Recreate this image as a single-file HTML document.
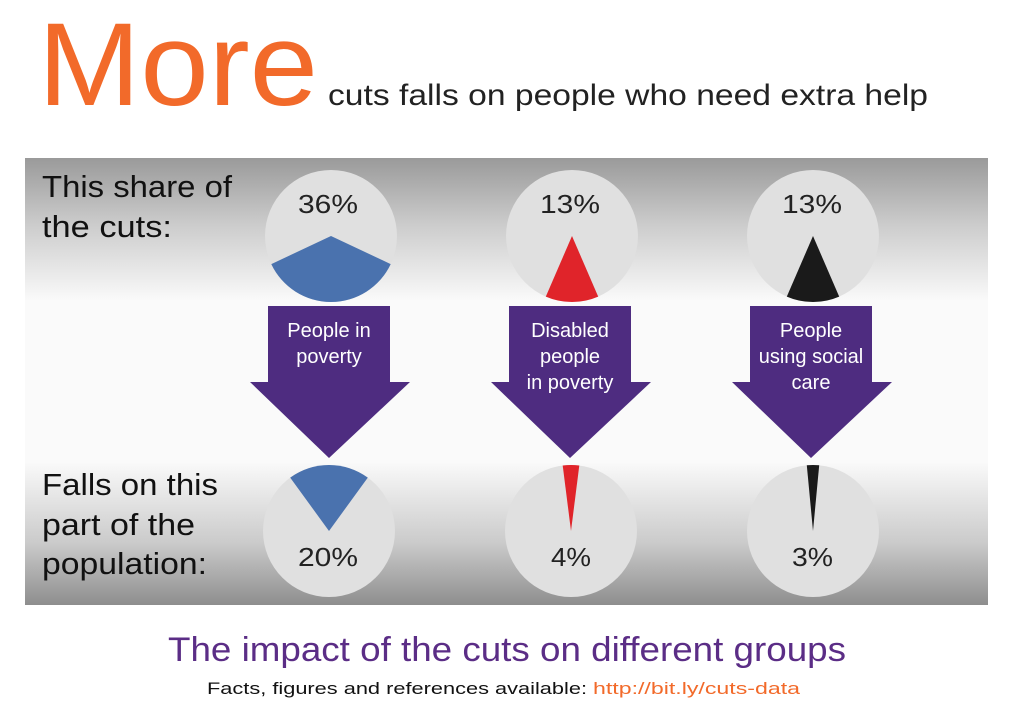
<!DOCTYPE html>
<html><head><meta charset="utf-8"><style>
body{margin:0;width:1024px;height:710px;background:#fff;overflow:hidden;font-family:"Liberation Sans",sans-serif}
</style></head><body>
<svg width="1024" height="710" viewBox="0 0 1024 710" xmlns="http://www.w3.org/2000/svg" font-family="Liberation Sans, sans-serif">
<defs>
<linearGradient id="bg" x1="0" y1="0" x2="0" y2="1">
<stop offset="0" stop-color="#9a9a9a"/>
<stop offset="0.15" stop-color="#cccccc"/>
<stop offset="0.32" stop-color="#fafafa"/>
<stop offset="0.68" stop-color="#fafafa"/>
<stop offset="0.86" stop-color="#cbcbcb"/>
<stop offset="1" stop-color="#8e8e8e"/>
</linearGradient>
</defs>
<text x="38" y="105" font-size="118" fill="#f26a2a" textLength="280" lengthAdjust="spacingAndGlyphs">More</text>
<text x="328" y="105" font-size="30" fill="#222" textLength="600" lengthAdjust="spacingAndGlyphs">cuts falls on people who need extra help</text>
<rect x="25" y="158" width="963" height="447" fill="url(#bg)"/>
<g font-size="31" fill="#111" lengthAdjust="spacingAndGlyphs">
<text x="42" y="197" textLength="190" lengthAdjust="spacingAndGlyphs">This share of</text>
<text x="42" y="237" textLength="130" lengthAdjust="spacingAndGlyphs">the cuts:</text>
<text x="42" y="495" textLength="176" lengthAdjust="spacingAndGlyphs">Falls on this</text>
<text x="42" y="535" textLength="153" lengthAdjust="spacingAndGlyphs">part of the</text>
<text x="42" y="574" textLength="165" lengthAdjust="spacingAndGlyphs">population:</text>
</g>
<g fill="#e0e0e0">
<circle cx="331" cy="236" r="66"/><circle cx="572" cy="236" r="66"/><circle cx="813" cy="236" r="66"/>
<circle cx="329" cy="531" r="66"/><circle cx="571" cy="531" r="66"/><circle cx="813" cy="531" r="66"/>
</g>
<path d="M331 236 L271.3 264.1 A66 66 0 0 0 390.7 264.1 Z" fill="#4a72ae"/>
<path d="M572 236 L545.8 296.6 A66 66 0 0 0 598.2 296.6 Z" fill="#e0242a"/>
<path d="M813 236 L786.8 296.6 A66 66 0 0 0 839.2 296.6 Z" fill="#1a1a1a"/>
<path d="M329 531 L290.2 477.6 A66 66 0 0 1 367.8 477.6 Z" fill="#4a72ae"/>
<path d="M571 531 L562.7 465.5 A66 66 0 0 1 579.3 465.5 Z" fill="#e0242a"/>
<path d="M813 531 L806.8 465.3 A66 66 0 0 1 819.2 465.3 Z" fill="#1a1a1a"/>
<g font-size="26" fill="#222">
<text x="298" y="213" textLength="60" lengthAdjust="spacingAndGlyphs">36%</text>
<text x="540" y="213" textLength="60" lengthAdjust="spacingAndGlyphs">13%</text>
<text x="782" y="213" textLength="60" lengthAdjust="spacingAndGlyphs">13%</text>
<text x="298" y="566" textLength="60" lengthAdjust="spacingAndGlyphs">20%</text>
<text x="551" y="566" textLength="40" lengthAdjust="spacingAndGlyphs">4%</text>
<text x="792" y="566" textLength="41" lengthAdjust="spacingAndGlyphs">3%</text>
</g>
<g fill="#4e2c80">
<path d="M268 306 H390 V382 H410 L329 458 L250 382 H268 Z"/>
<path d="M509 306 H631 V382 H651 L570 458 L491 382 H509 Z"/>
<path d="M750 306 H872 V382 H892 L811 458 L732 382 H750 Z"/>
</g>
<g font-size="20" fill="#fff" text-anchor="middle">
<text x="329" y="337">People in</text><text x="329" y="363">poverty</text>
<text x="570" y="337">Disabled</text><text x="570" y="363">people</text><text x="570" y="389">in poverty</text>
<text x="811" y="337">People</text><text x="811" y="363">using social</text><text x="811" y="389">care</text>
</g>
<text x="168" y="661" font-size="34" fill="#5b2d86" textLength="678" lengthAdjust="spacingAndGlyphs">The impact of the cuts on different groups</text>
<text x="207" y="694" font-size="17" fill="#111" textLength="380" lengthAdjust="spacingAndGlyphs">Facts, figures and references available:</text>
<text x="593" y="694" font-size="17" fill="#f26a2a" textLength="207" lengthAdjust="spacingAndGlyphs">http://bit.ly/cuts-data</text>
</svg>
</body></html>
